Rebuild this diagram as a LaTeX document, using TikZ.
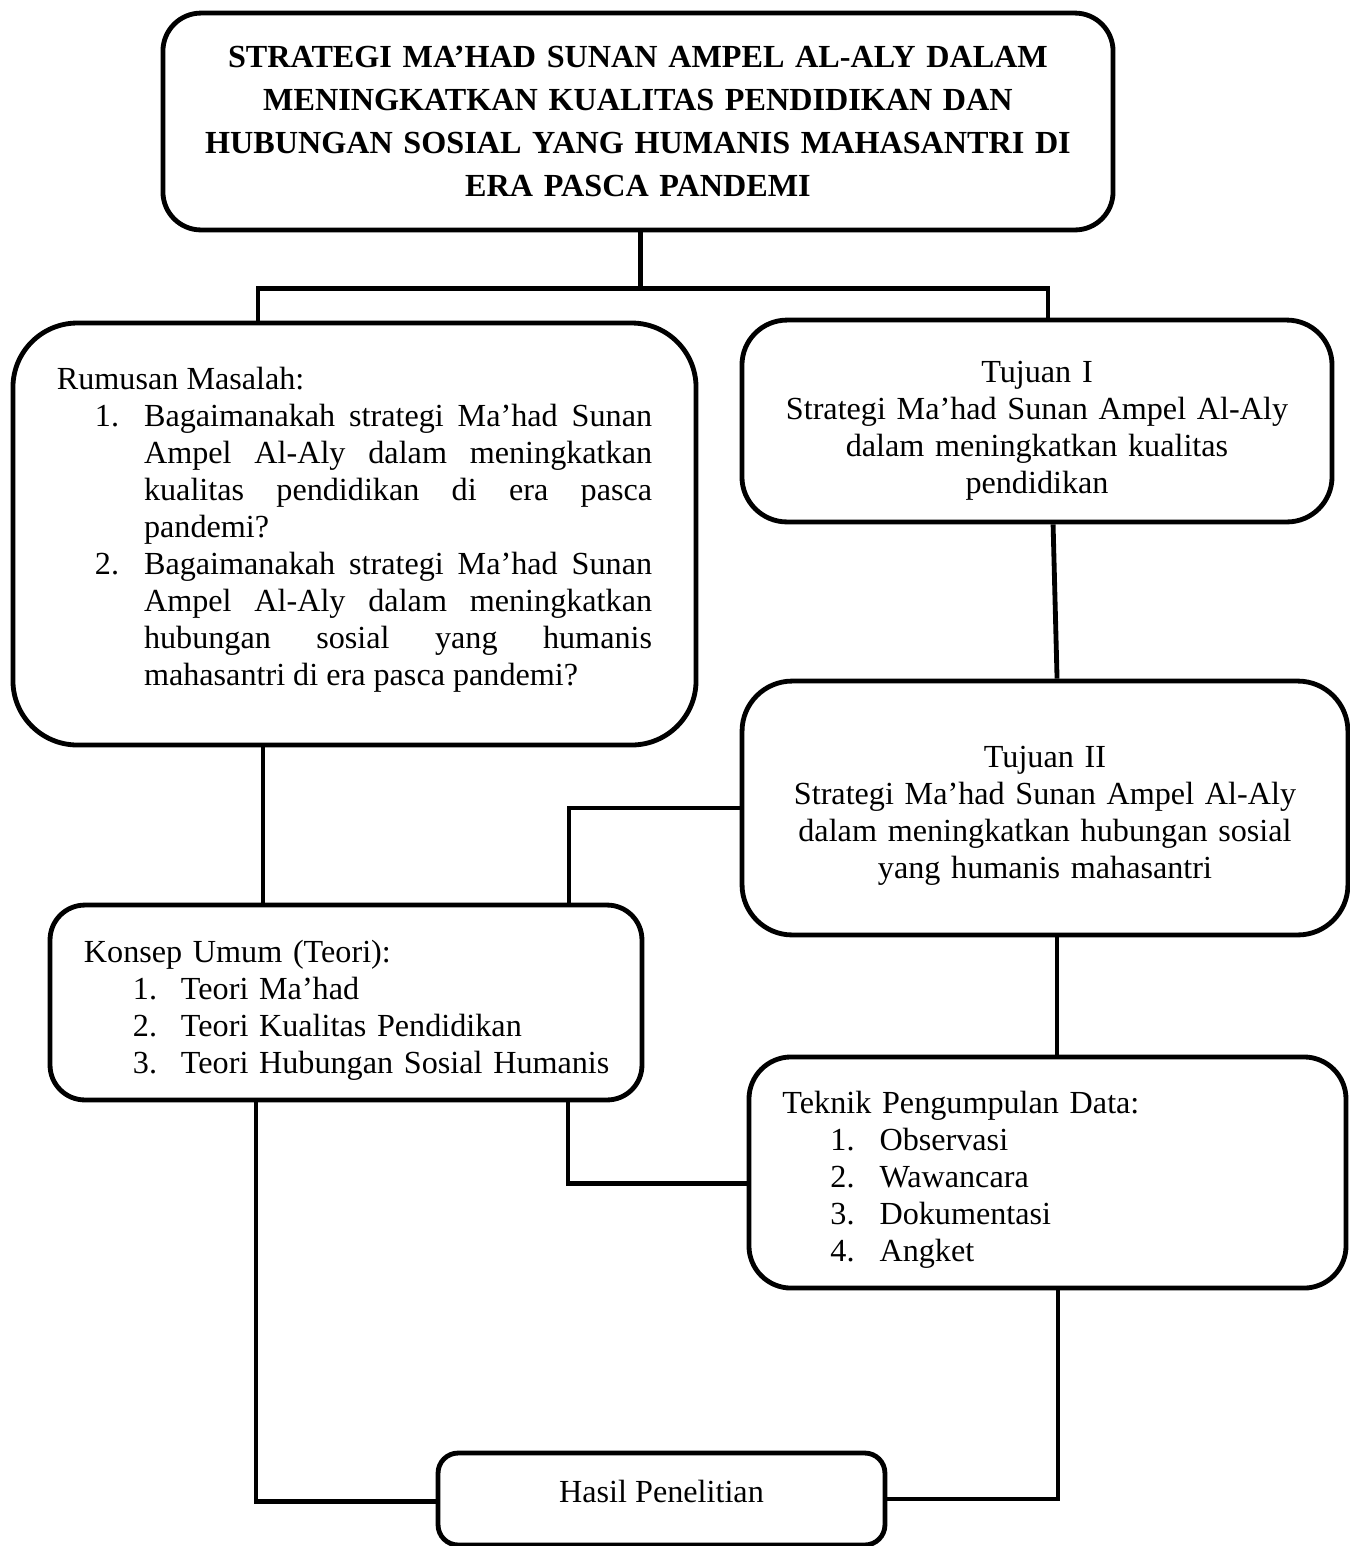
\documentclass[tikz,border=0pt]{standalone}
\usepackage{fontspec}
\setmainfont{Liberation Serif}
\hbadness=10000
\newenvironment{numlist}[3]{%
  \begin{list}{}{\setlength{\leftmargin}{#2}\setlength{\rightmargin}{#3}%
    \setlength{\labelsep}{5pt}%
    \setlength{\labelwidth}{\dimexpr#2-#1-5pt\relax}%
    \setlength{\topsep}{0pt}\setlength{\partopsep}{0pt}%
    \setlength{\itemsep}{0pt}\setlength{\parsep}{0pt}%
    \renewcommand{\makelabel}[1]{##1\hfil}}}%
  {\end{list}}

\begin{document}
\begin{tikzpicture}[
		x=0.373pt, y=-0.373pt,
		every node/.style={draw, line width=1.8pt, fill=white, inner sep=0pt,
			font=\fontsize{12}{13.8}\selectfont},
		joinline/.style={line width=1.8pt}
	]
  \useasboundingbox (0,0) rectangle (1350,1546);
  \node (title) [minimum width=354.4pt, minimum height=80.9pt, rounded corners=14.2pt,
    text width=340pt, align=center, font=\bfseries\fontsize{12}{16}\selectfont] at (638,121.5)
    {STRATEGI MA’HAD SUNAN AMPEL AL-ALY DALAM\\ MENINGKATKAN KUALITAS PENDIDIKAN DAN\\
     HUBUNGAN SOSIAL YANG HUMANIS MAHASANTRI DI\\ ERA PASCA PANDEMI};
  \node (rumusan) [minimum width=254.8pt, minimum height=157.4pt, rounded corners=24pt,
    text width=222pt, align=justify] at (354.5,534)
    {Rumusan Masalah:
     \begin{numlist}{14.2pt}{32.5pt}{0pt}
     \item[1.] Bagaimanakah strategi Ma’had Sunan\linebreak Ampel Al-Aly dalam meningkatkan\linebreak
       kualitas pendidikan di era pasca\linebreak pandemi?
     \item[2.] Bagaimanakah strategi Ma’had Sunan\linebreak Ampel Al-Aly dalam meningkatkan\linebreak
       hubungan sosial yang humanis\linebreak mahasantri di era pasca pandemi?\rule[-6pt]{0pt}{0pt}
     \end{numlist}};
  \node (tujuan1) [minimum width=220.1pt, minimum height=75.3pt, rounded corners=16.8pt,
    text width=205pt, align=center] at (1037,421)
    {\rule{0pt}{15pt}Tujuan I\\ Strategi Ma’had Sunan Ampel Al-Aly\\ dalam meningkatkan kualitas\\ pendidikan};
  \node (tujuan2) [minimum width=226pt, minimum height=94.7pt, rounded corners=18.7pt,
    text width=210pt, align=center] at (1045,808)
    {\rule{0pt}{13.5pt}Tujuan II\\ Strategi Ma’had Sunan Ampel Al-Aly\\ dalam meningkatkan hubungan sosial\\ yang humanis mahasantri};
  \node (konsep) [minimum width=220.8pt, minimum height=72.7pt, rounded corners=13pt,
    text width=195.5pt, align=left] at (346,1002.5)
    {\rule{0pt}{14pt}Konsep Umum (Teori):
     \begin{numlist}{18.3pt}{36.2pt}{-20pt}
     \item[1.] Teori Ma’had
     \item[2.] Teori Kualitas Pendidikan
     \item[3.] Teori Hubungan Sosial Humanis
     \end{numlist}};
  \node (teknik) [minimum width=222.7pt, minimum height=86.2pt, rounded corners=15.7pt,
    text width=197.7pt, align=left] at (1047.5,1172.5)
    {\rule{0pt}{14pt}Teknik Pengumpulan Data:
     \begin{numlist}{17.9pt}{36.2pt}{-20pt}
     \item[1.] Observasi
     \item[2.] Wawancara
     \item[3.] Dokumentasi
     \item[4.] Angket
     \end{numlist}};
  \node (hasil) [minimum width=166.7pt, minimum height=34.3pt, rounded corners=7.5pt,
    text depth=6pt] at (661.5,1499) {Hasil Penelitian};
  % connectors
  \coordinate (bus) at ([yshift=-20.9pt]title.south);
  \coordinate (r-top) at ([xshift=-36pt]rumusan.north);
  \coordinate (t1-top) at ([xshift=4.1pt]tujuan1.north);
  \coordinate (r-out) at ([xshift=-34.1pt]rumusan.south);
  \coordinate (k-in) at ([xshift=83.2pt]konsep.north);
  \coordinate (t2-out) at ([xshift=4.5pt]tujuan2.south);
  \coordinate (k-out1) at ([xshift=-33.6pt]konsep.south);
  \coordinate (k-out2) at ([xshift=82.8pt]konsep.south);
  \coordinate (d-out) at ([xshift=3.9pt]teknik.south);
  \draw[joinline] ([xshift=1pt]title.south) -- ([xshift=1pt]bus);
  \draw[joinline] (r-top) |- (bus) -| (t1-top);
  \draw[joinline] ([xshift=6pt]tujuan1.south) -- ([xshift=4.5pt]tujuan2.north);
  \draw[joinline] (r-out) -- (r-out |- konsep.north);
  \draw[joinline] (tujuan2.west) -| (k-in);
  \draw[joinline] (t2-out) -- (t2-out |- teknik.north);
  \draw[joinline] (k-out2) |- ([yshift=-4pt]teknik.west);
  \draw[joinline] (k-out1) |- ([yshift=-1pt]hasil.west);
  \draw[joinline] (d-out) |- (hasil.east);
\end{tikzpicture}
\end{document}
